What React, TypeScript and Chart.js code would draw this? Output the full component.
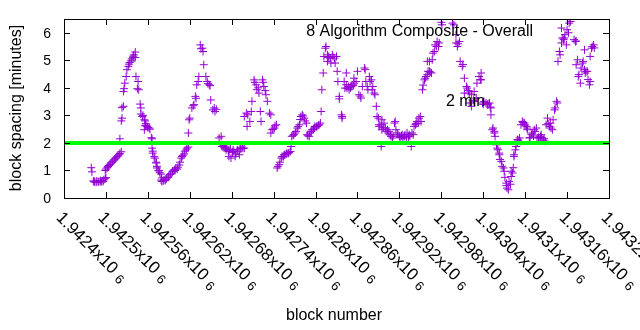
import React, { useEffect, useRef } from 'react';
import { Chart, registerables } from 'chart.js';

Chart.register(...registerables);

const FONT = '"Liberation Sans", Arial, sans-serif';

const seriesTitle = '8 Algorithm Composite - Overall';
const lineTitle = '2 min';
const xAxisTitle = 'block number';
const yAxisTitle = 'block spacing [minutes]';

const xMin = 1942440;
const xMax = 1943220;
const yMin = 0;
const yMax = 6.5;
const targetMinutes = 2;

const xTickValues = [1942440, 1942500, 1942560, 1942620, 1942680, 1942740, 1942800, 1942860, 1942920, 1942980, 1943040, 1943100, 1943160, 1943220];
const xTickLabels = ['1.9424', '1.9425', '1.94256', '1.94262', '1.94268', '1.94274', '1.9428', '1.94286', '1.94292', '1.94298', '1.94304', '1.9431', '1.94316', '1.94322'];
const yTicks = [0, 1, 2, 3, 4, 5, 6];

const blocks = [
  1942479, 1942480, 1942482, 1942483, 1942484, 1942486, 1942487, 1942489, 1942490, 1942492, 1942493, 1942494, 1942496, 1942497, 1942499, 1942500,
  1942499, 1942500, 1942502, 1942503, 1942504, 1942506, 1942507, 1942509, 1942510, 1942512, 1942513, 1942514, 1942516, 1942517, 1942519, 1942520, 1942522,
  1942520, 1942522, 1942523, 1942523, 1942525, 1942525, 1942526, 1942527, 1942529, 1942530, 1942532, 1942533, 1942534, 1942536, 1942537, 1942539, 1942540, 1942542, 1942539, 1942542,
  1942543, 1942546, 1942545, 1942547, 1942549, 1942550, 1942550, 1942552, 1942553, 1942555, 1942556, 1942557, 1942557, 1942559, 1942560, 1942562, 1942563, 1942555, 1942556,
  1942565, 1942566, 1942566, 1942567, 1942567, 1942569, 1942570, 1942572, 1942572, 1942573, 1942573, 1942575, 1942576, 1942577, 1942579, 1942579, 1942580, 1942580,
  1942582, 1942583, 1942585, 1942586, 1942587, 1942589, 1942590, 1942592, 1942593, 1942595, 1942596, 1942598, 1942599, 1942600, 1942602, 1942603, 1942605, 1942606,
  1942608, 1942609, 1942610, 1942612, 1942613, 1942615, 1942616, 1942618, 1942618, 1942619, 1942620, 1942623, 1942625, 1942626, 1942628, 1942629, 1942630, 1942632,
  1942633, 1942635, 1942636, 1942638, 1942639, 1942640, 1942643, 1942645, 1942646, 1942648, 1942649, 1942650, 1942653, 1942655, 1942656, 1942658,
  1942662, 1942665, 1942666, 1942668, 1942669, 1942671, 1942672, 1942673, 1942675, 1942676, 1942676, 1942678, 1942679, 1942681, 1942682, 1942683, 1942685, 1942686,
  1942688, 1942689, 1942691, 1942692, 1942693, 1942695, 1942696, 1942698, 1942698, 1942701, 1942703, 1942702, 1942706, 1942708, 1942709, 1942712, 1942713, 1942715,
  1942716, 1942718, 1942719, 1942721, 1942722, 1942724, 1942725, 1942726, 1942728, 1942729, 1942731, 1942734, 1942736, 1942736, 1942738, 1942739, 1942741, 1942742, 1942744,
  1942745, 1942746, 1942748, 1942749, 1942751, 1942752, 1942754, 1942755, 1942756, 1942758, 1942759, 1942761, 1942762, 1942764, 1942765, 1942766, 1942768, 1942769,
  1942771, 1942772, 1942774, 1942775, 1942777, 1942778, 1942779, 1942781, 1942782, 1942784, 1942785, 1942787, 1942788, 1942789, 1942791, 1942792, 1942794, 1942795,
  1942797, 1942798, 1942799, 1942801, 1942802, 1942804, 1942805, 1942807, 1942808, 1942809, 1942811, 1942812, 1942814, 1942815, 1942817, 1942817, 1942818, 1942819,
  1942821, 1942822, 1942824, 1942825, 1942827, 1942828, 1942830, 1942831, 1942832, 1942834, 1942834, 1942837, 1942838, 1942838, 1942841, 1942842, 1942844, 1942844,
  1942845, 1942847, 1942848, 1942850, 1942851, 1942852, 1942854, 1942855, 1942855, 1942858, 1942860, 1942862, 1942864, 1942865, 1942867, 1942870, 1942871, 1942872,
  1942874, 1942875, 1942877, 1942878, 1942880, 1942881, 1942882, 1942884, 1942885, 1942887, 1942888, 1942890, 1942891, 1942891, 1942894, 1942894, 1942895, 1942895,
  1942897, 1942898, 1942900, 1942901, 1942903, 1942904, 1942905, 1942907, 1942908, 1942910, 1942911, 1942913, 1942914, 1942915, 1942917, 1942918, 1942920, 1942921,
  1942923, 1942924, 1942925, 1942927, 1942928, 1942930, 1942931, 1942933, 1942934, 1942935, 1942937, 1942938, 1942940, 1942941, 1942943, 1942944, 1942945, 1942947,
  1942948, 1942950, 1942951, 1942953, 1942954, 1942956, 1942957, 1942958, 1942960, 1942961, 1942963, 1942964, 1942966, 1942960, 1942963, 1942967, 1942968, 1942970,
  1942971, 1942973, 1942974, 1942976, 1942977, 1942980, 1942981, 1942996, 1942998, 1943001, 1943001, 1943003, 1943004, 1943006, 1943007, 1943010, 1943011, 1943013,
  1943013, 1943016, 1943017, 1943019, 1943020, 1943020, 1943023, 1943023, 1943026, 1943027, 1943027, 1943030, 1943031, 1943034, 1943036, 1943037, 1943037,
  1943039, 1943040, 1943041, 1943044, 1943046, 1943047, 1943049, 1943050, 1943051, 1943051, 1943053, 1943054, 1943056, 1943056, 1943057, 1943059, 1943060, 1943061,
  1943063, 1943063, 1943064, 1943066, 1943067, 1943069, 1943070, 1943071, 1943073, 1943073, 1943074, 1943076, 1943077, 1943079, 1943080, 1943080, 1943082, 1943083,
  1943084, 1943084, 1943086, 1943087, 1943089, 1943089, 1943090, 1943092, 1943093, 1943094, 1943096, 1943097, 1943099, 1943100, 1943102, 1943103, 1943103,
  1943106, 1943107, 1943109, 1943110, 1943112, 1943113, 1943114, 1943116, 1943117, 1943119, 1943120, 1943122, 1943123, 1943124, 1943126, 1943127, 1943129,
  1943130, 1943132, 1943133, 1943135, 1943136, 1943137, 1943139, 1943140, 1943142, 1943143, 1943145, 1943146, 1943147, 1943149, 1943150, 1943152, 1943152, 1943153,
  1943155, 1943156, 1943157, 1943159, 1943160, 1943162, 1943163, 1943165, 1943170, 1943172, 1943173, 1943173, 1943175, 1943176, 1943177, 1943179, 1943180, 1943182,
  1943183, 1943185, 1943185, 1943186, 1943187, 1943189, 1943190, 1943192, 1943193, 1943193, 1943195, 1943196, 1943198, 1943199,
];

const spacing = [
  1.10, 0.95, 0.62, 0.58, 0.60, 0.57, 0.62, 0.58, 0.60, 0.63, 0.58, 0.62, 0.60, 0.66, 0.70, 0.74,
  1.00, 1.05, 1.10, 1.14, 1.18, 1.22, 1.27, 1.30, 1.34, 1.38, 1.42, 1.46, 1.50, 1.53, 1.57, 1.62, 1.68,
  2.15, 2.80, 2.90, 3.28, 3.33, 3.87, 3.97, 4.17, 4.41, 4.66, 4.78, 4.86, 4.92, 4.98, 5.05, 5.10, 5.20, 5.30, 5.15, 5.10,
  4.41, 4.23, 3.97, 3.93, 3.41, 3.27, 3.05, 2.96, 3.00, 2.84, 2.80, 2.70, 2.64, 2.60, 2.56, 2.54, 2.50, 2.48, 2.62,
  2.19, 2.15, 1.81, 1.70, 1.63, 1.50, 1.45, 1.30, 1.27, 1.15, 1.09, 1.00, 0.99, 0.92, 0.87, 0.65, 0.73, 0.60,
  0.62, 0.66, 0.64, 0.68, 0.73, 0.75, 0.80, 0.85, 0.88, 0.95, 0.98, 1.03, 1.00, 1.09, 1.05, 1.12, 1.20, 1.30,
  1.45, 1.51, 1.55, 1.60, 1.70, 1.75, 1.81, 1.85, 2.36, 2.84, 2.90, 3.27, 3.35, 3.39, 3.69, 3.62, 4.11, 4.23,
  4.41, 5.56, 5.42, 5.44, 5.32, 4.84, 4.41, 4.23, 4.15, 4.11, 4.08, 3.56, 3.20, 3.27, 3.14, 3.22,
  2.18, 2.24, 1.87, 1.90, 1.82, 1.81, 1.75, 1.85, 1.72, 1.69, 1.51, 1.78, 1.45, 1.65, 1.75, 1.69, 1.51, 1.60,
  1.75, 1.70, 1.57, 1.81, 1.78, 1.85, 1.80, 1.81, 2.96, 3.08, 3.02, 2.60, 2.78, 3.14, 3.51, 4.29, 4.20, 4.11,
  3.93, 4.00, 3.81, 3.14, 2.78, 4.29, 4.20, 4.05, 3.90, 3.75, 3.51, 3.08, 3.02, 2.36, 2.48, 2.50, 2.54, 2.62, 2.66,
  1.09, 1.15, 1.21, 1.30, 1.45, 1.51, 1.50, 1.57, 1.57, 1.60, 1.63, 1.62, 1.65, 1.69, 1.87, 2.24, 2.28, 2.30,
  2.36, 2.42, 2.54, 2.60, 2.66, 2.85, 2.96, 3.02, 2.98, 2.90, 2.80, 2.72, 2.30, 2.26, 2.24, 2.36, 2.42, 2.48,
  2.50, 2.54, 2.60, 2.58, 2.60, 2.64, 2.66, 2.72, 3.14, 3.93, 4.54, 5.14, 5.44, 5.50, 5.20, 4.96, 5.10, 5.14,
  5.08, 4.90, 5.20, 5.14, 5.08, 4.90, 5.14, 4.60, 4.23, 3.69, 3.60, 3.02, 2.90, 2.96, 4.23, 3.99, 4.54, 4.11,
  3.99, 4.05, 3.93, 4.00, 4.05, 4.11, 4.08, 4.17, 4.35, 4.23, 4.60, 3.75, 3.70, 3.63, 4.05, 4.72, 4.66, 4.23,
  4.05, 3.93, 4.41, 4.23, 4.29, 3.93, 4.05, 3.81, 3.75, 3.33, 2.96, 2.90, 2.66, 2.60, 1.87, 2.66, 2.84, 2.48,
  2.55, 2.72, 2.54, 2.42, 2.48, 2.36, 2.42, 2.30, 2.24, 2.18, 2.25, 2.72, 2.78, 2.48, 2.36, 2.30, 2.24, 2.20,
  2.26, 2.30, 2.15, 2.24, 2.30, 2.18, 2.36, 2.22, 2.30, 2.25, 1.87, 2.36, 2.30, 2.60, 2.66, 2.70, 2.78, 2.72,
  2.90, 2.96, 2.78, 3.93, 4.10, 4.29, 4.35, 4.41, 4.48, 4.60, 4.60, 4.57, 4.54, 4.96, 4.96, 5.02, 5.26, 5.32,
  5.56, 5.50, 5.68, 5.50, 5.63, 6.38, 6.29, 6.35, 6.29, 5.93, 5.63, 5.50, 5.60, 5.68, 4.96, 4.78, 4.85, 4.35,
  3.81, 4.05, 3.99, 3.90, 3.81, 3.45, 3.75, 3.33, 3.55, 3.87, 3.51, 3.63, 4.17, 4.41, 4.30, 4.54, 4.29,
  3.45, 3.40, 3.50, 3.45, 3.39, 3.42, 3.45, 3.30, 3.27, 3.02, 2.48, 2.54, 2.42, 2.36, 2.24, 1.93, 1.81, 1.75,
  1.63, 1.57, 1.40, 1.33, 1.15, 1.09, 0.97, 0.75, 0.54, 0.45, 0.36, 0.30, 0.60, 0.50, 0.78, 0.97, 0.91, 1.10,
  1.51, 1.57, 1.75, 1.87, 2.00, 2.12, 2.10, 2.18, 2.05, 2.66, 2.78, 2.74, 2.72, 2.65, 2.60, 2.54, 2.48,
  2.18, 2.20, 2.30, 2.36, 2.25, 2.48, 2.42, 2.54, 2.18, 2.20, 2.18, 2.24, 2.30, 2.18, 2.10, 2.15, 2.06,
  2.66, 2.90, 2.70, 2.60, 2.72, 2.54, 2.48, 2.84, 3.20, 3.27, 3.51, 3.45, 4.96, 5.32, 5.20, 5.63, 6.17, 5.81,
  5.75, 5.81, 5.93, 5.56, 6.11, 6.00, 6.35, 6.41, 5.75, 5.68, 5.70, 4.84, 5.02, 4.41, 4.48, 4.17, 4.72, 4.90,
  4.96, 5.38, 4.66, 4.54, 4.60, 4.60, 4.30, 4.11, 4.23, 5.14, 5.44, 5.50, 5.56, 5.45,
];

const frame = {
  id: 'gnuplotFrame',
  afterDraw(chart: any) {
    const { ctx, chartArea: ca, scales } = chart;
    const xs = scales.x;
    const ys = scales.y;
    ctx.save();
    ctx.strokeStyle = '#000';
    ctx.lineWidth = 1;
    ctx.strokeRect(ca.left + 0.5, ca.top + 0.5, ca.right - ca.left, ca.bottom - ca.top);
    ctx.beginPath();
    xTickValues.forEach((v) => {
      const px = Math.round(xs.getPixelForValue(v)) + 0.5;
      ctx.moveTo(px, ca.bottom);
      ctx.lineTo(px, ca.bottom - 6);
      ctx.moveTo(px, ca.top);
      ctx.lineTo(px, ca.top + 6);
    });
    yTicks.forEach((v) => {
      const py = Math.round(ys.getPixelForValue(v)) + 0.5;
      ctx.moveTo(ca.left, py);
      ctx.lineTo(ca.left + 6, py);
      ctx.moveTo(ca.right, py);
      ctx.lineTo(ca.right - 6, py);
    });
    ctx.stroke();

    ctx.fillStyle = '#000';
    // y tick labels
    ctx.font = `14px ${FONT}`;
    ctx.textAlign = 'right';
    ctx.textBaseline = 'middle';
    yTicks.forEach((v) => {
      ctx.fillText(String(v), ca.left - 13, ys.getPixelForValue(v) + 1);
    });

    // x tick labels rotated by -45 degrees (text running down-right)
    xTickValues.forEach((v, i) => {
      const px = xs.getPixelForValue(v);
      ctx.save();
      ctx.translate(px + 2, ca.bottom + 10);
      ctx.rotate(Math.PI / 4);
      ctx.font = `17px ${FONT}`;
      ctx.textAlign = 'left';
      ctx.textBaseline = 'alphabetic';
      const main = xTickLabels[i] + 'x10';
      const base = 15;
      ctx.fillText(main, 0, base);
      const w = ctx.measureText(main).width;
      ctx.font = `13px ${FONT}`;
      ctx.fillText('6', w + 5, base + 2);
      ctx.restore();
    });

    // axis titles
    ctx.font = `16px ${FONT}`;
    ctx.textAlign = 'center';
    ctx.textBaseline = 'middle';
    ctx.fillText(xAxisTitle, 334, 316);
    ctx.save();
    ctx.translate(17, 108);
    ctx.rotate(-Math.PI / 2);
    ctx.fillText(yAxisTitle, 0, 0);
    ctx.restore();

    // labels
    ctx.textAlign = 'right';
    ctx.fillText(seriesTitle, 533, 32);
    ctx.textAlign = 'left';
    ctx.fillText(lineTitle, 446, 102);
    ctx.restore();
  },
};

export default function App() {
  const ref = useRef<HTMLCanvasElement | null>(null);
  useEffect(() => {
    document.body.style.margin = '0';
    const canvas = ref.current;
    if (!canvas) return;
    const chart = new Chart(canvas, {
      type: 'scatter',
      data: {
        datasets: [
          {
            type: 'line',
            label: lineTitle,
            data: [
              { x: xMin, y: targetMinutes },
              { x: xMax, y: targetMinutes },
            ],
            borderColor: '#00ff00',
            borderWidth: 4,
            pointRadius: 0,
            order: 0,
          } as any,
          {
            label: seriesTitle,
            data: blocks.map((b, i) => ({ x: b, y: spacing[i] })),
            pointStyle: 'cross',
            pointRadius: 4,
            borderColor: '#9400d3',
            backgroundColor: '#9400d3',
            borderWidth: 1,
            order: 1,
          },
        ],
      },
      options: {
        animation: false,
        responsive: false,
        maintainAspectRatio: false,
        layout: { padding: { left: 0, right: 31, top: 19, bottom: 0 } },
        plugins: { legend: { display: false }, tooltip: { enabled: false } },
        scales: {
          x: {
            type: 'linear',
            min: xMin,
            max: xMax,
            ticks: { display: false },
            grid: { display: false, drawTicks: false },
            border: { display: false },
            afterFit: (s: any) => {
              s.height = 132;
            },
          },
          y: {
            min: yMin,
            max: yMax,
            ticks: { display: false },
            grid: { display: false, drawTicks: false },
            border: { display: false },
            afterFit: (s: any) => {
              s.width = 64;
            },
          },
        },
      },
      plugins: [frame],
    });
    return () => chart.destroy();
  }, []);
  return (
    <div style={{ width: 640, height: 330, background: '#fff' }}>
      <canvas ref={ref} width={640} height={330} style={{ display: 'block' }} />
    </div>
  );
}
